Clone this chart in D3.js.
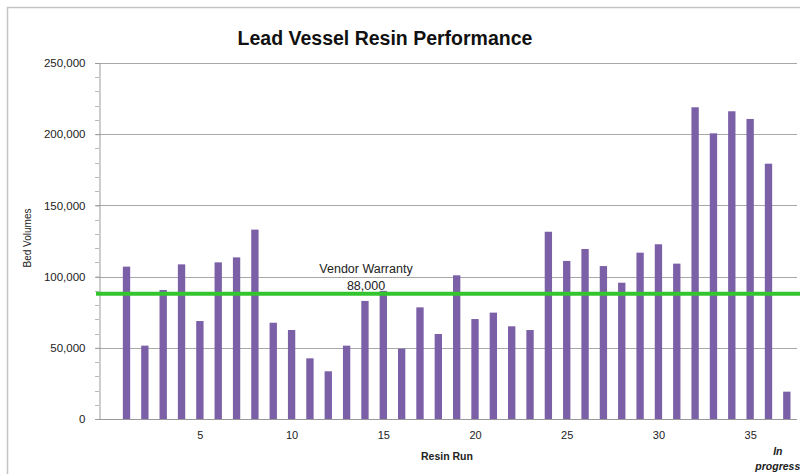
<!DOCTYPE html>
<html>
<head>
<meta charset="utf-8">
<script src="https://cdn.jsdelivr.net/npm/d3@7"></script>
<style>
  html, body { margin: 0; padding: 0; background: #fff; }
  svg { display: block; font-family: "Liberation Sans", Arial, sans-serif; }
</style>
</head>
<body>
<svg id="chart" width="800" height="474"></svg>
<script>
// ---- data ----
const runs = d3.range(1, 38);
const bedVolumes = [
  107000, 51500, 90600, 108600, 68800, 110000, 113500, 133000, 67600, 62500,
  42600, 33500, 51500, 82900, 90000, 49400, 78400, 59700, 100900, 70200,
  74700, 65100, 62500, 131500, 111000, 119400, 107400, 95700, 116800, 122700,
  109100, 218900, 200600, 216100, 210700, 179300, 19200
];
const warrantyValue = 88000;
const warrantyLabel = ["Vendor Warranty", "88,000"];
const yTickValues = [0, 50000, 100000, 150000, 200000, 250000];
const xTickValues = [5, 10, 15, 20, 25, 30, 35];
const inProgressLabel = ["In", "progress"];
const titleText = "Lead Vessel Resin Performance";
const yTitle = "Bed Volumes";
const xTitle = "Resin Run";

// ---- layout ----
const svg = d3.select("#chart");
const plotLeft = 99, plotRight = 796, plotTop = 63, plotBottom = 419;

const x = d3.scaleLinear().domain([-0.5, 37.5]).range([plotLeft, plotRight]);
const y = d3.scaleLinear().domain([0, 250000]).range([plotBottom, plotTop]);
const step = x(1) - x(0);
const barW = step * 0.4;

// frame
svg.append("line").attr("x1", 7.5).attr("x2", 7.5).attr("y1", 7).attr("y2", 474)
  .attr("stroke", "#c4c4c4").attr("stroke-width", 1.5);
svg.append("line").attr("x1", 7).attr("x2", 800).attr("y1", 7.5).attr("y2", 7.5)
  .attr("stroke", "#c4c4c4").attr("stroke-width", 1.5);

// gridlines
svg.append("g").selectAll("line").data(yTickValues.filter(d => d > 0)).join("line")
  .attr("x1", plotLeft).attr("x2", plotRight + 1)
  .attr("y1", d => Math.round(y(d)) + 0.5).attr("y2", d => Math.round(y(d)) + 0.5)
  .attr("stroke", "#a8a8a8").attr("stroke-width", 1);

// minor ticks
svg.append("g").selectAll("line").data(d3.range(0, 250001, 10000)).join("line")
  .attr("x1", plotLeft - 4).attr("x2", plotLeft)
  .attr("y1", d => Math.round(y(d)) + 0.5).attr("y2", d => Math.round(y(d)) + 0.5)
  .attr("stroke", "#b8b8b8").attr("stroke-width", 1);

// y axis
const yAxis = svg.append("g").attr("transform", `translate(${plotLeft + 0.5},0)`)
  .call(d3.axisLeft(y).tickValues(yTickValues).tickFormat(d3.format(",")).tickSize(4).tickPadding(10));
yAxis.select(".domain").attr("stroke", "#999");
yAxis.selectAll(".tick line").attr("stroke", "#999");
yAxis.selectAll(".tick text").attr("font-size", 11.5).attr("fill", "#222")
  .attr("font-family", "Liberation Sans, Arial, sans-serif");

// bars
svg.append("g").selectAll("rect").data(runs).join("rect")
  .attr("x", (d) => x(d) - barW / 2)
  .attr("y", (d, i) => y(bedVolumes[i]))
  .attr("width", barW)
  .attr("height", (d, i) => y(0) - y(bedVolumes[i]))
  .attr("fill", "#7b5fa7");

// x axis baseline
svg.append("line").attr("x1", plotLeft).attr("x2", plotRight + 1)
  .attr("y1", plotBottom + 0.5).attr("y2", plotBottom + 0.5).attr("stroke", "#999");

// x tick labels
const xAxis = svg.append("g").attr("transform", `translate(0,${plotBottom})`)
  .call(d3.axisBottom(x).tickValues(xTickValues).tickSize(0).tickPadding(12));
xAxis.select(".domain").remove();
xAxis.selectAll(".tick text").attr("font-size", 11).attr("fill", "#222")
  .attr("font-family", "Liberation Sans, Arial, sans-serif");

// "In progress" label under the last run
const lastX = x(runs[runs.length - 1]) - 9;
const ip = svg.append("text")
  .attr("x", lastX).attr("y", 455)
  .attr("text-anchor", "middle").attr("font-size", 10.5)
  .attr("font-weight", "bold").attr("font-style", "italic").attr("fill", "#222");
ip.selectAll("tspan").data(inProgressLabel).join("tspan")
  .attr("x", lastX)
  .attr("dy", (d, i) => i === 0 ? 0 : 15)
  .text(d => d);

// warranty line
svg.append("line").attr("x1", plotLeft - 3).attr("x2", 800)
  .attr("y1", y(warrantyValue)).attr("y2", y(warrantyValue))
  .attr("stroke", "#33c52e").attr("stroke-width", 4);

svg.append("g").selectAll("text").data(warrantyLabel).join("text")
  .attr("x", 366).attr("y", (d, i) => 273 + i * 17)
  .attr("text-anchor", "middle").attr("font-size", 12.5).attr("fill", "#222")
  .text(d => d);

// titles
svg.append("text").attr("x", 385).attr("y", 45).attr("text-anchor", "middle")
  .attr("font-size", 19.5).attr("font-weight", "bold").attr("fill", "#111")
  .text(titleText);

svg.append("text").attr("transform", "translate(31,238) rotate(-90)")
  .attr("text-anchor", "middle").attr("font-size", 10).attr("fill", "#222")
  .text(yTitle);

svg.append("text").attr("x", 447).attr("y", 460).attr("text-anchor", "middle")
  .attr("font-size", 10.5).attr("font-weight", "bold").attr("fill", "#222")
  .text(xTitle);
</script>
</body>
</html>
